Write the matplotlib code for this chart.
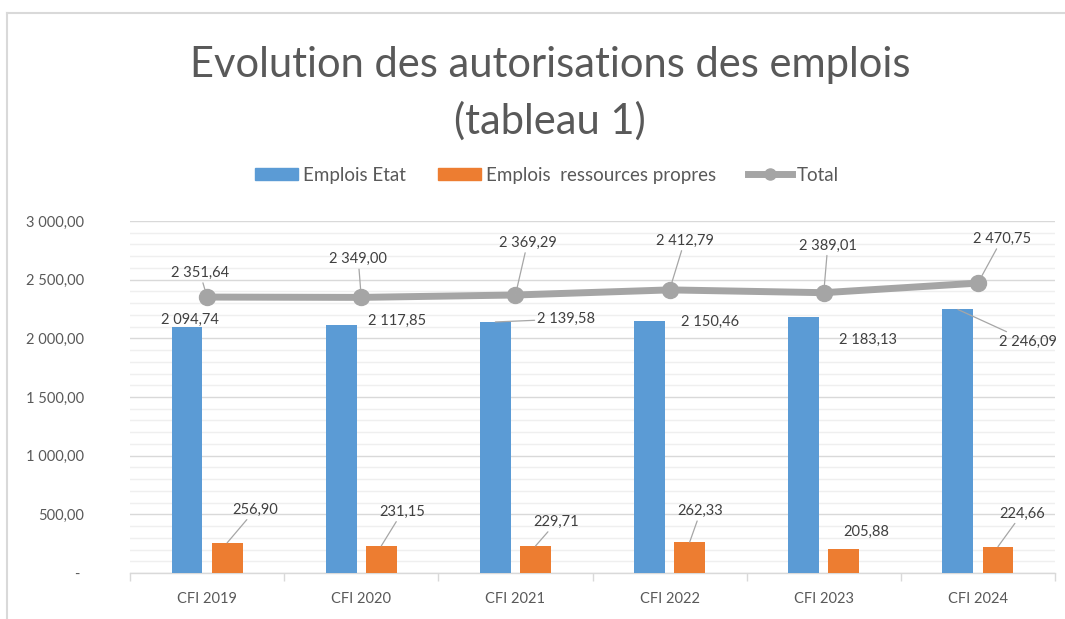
import matplotlib
matplotlib.use("Agg")
import matplotlib.pyplot as plt
from matplotlib.lines import Line2D
from matplotlib.patches import Patch
import numpy as np

categories = ["CFI 2019", "CFI 2020", "CFI 2021", "CFI 2022", "CFI 2023", "CFI 2024"]
emplois_etat = [2094.74, 2117.85, 2139.58, 2150.46, 2183.13, 2246.09]
emplois_rp = [256.90, 231.15, 229.71, 262.33, 205.88, 224.66]
total = [2351.64, 2349.00, 2369.29, 2412.79, 2389.01, 2470.75]
yticks = [0, 500, 1000, 1500, 2000, 2500, 3000]

# label offsets in pixels (dx, dy) and whether a leader line is drawn
off_total = [(-7, 24), (-3, 38), (12, 52), (15, 49), (4, 47), (24, 44)]
lead_total = [True, True, True, True, True, True]
off_etat = [(3, 7), (56, 4), (71, 3), (61, -1), (64, -23), (70, -32)]
lead_etat = [False, False, True, False, False, True]
off_rp = [(28, 33), (21, 34), (21, 24), (11, 31), (22, 17), (24, 33)]
lead_rp = [True, True, True, True, False, True]

BLUE = "#5b9bd5"
ORANGE = "#ed7d31"
GRAY = "#a5a5a5"
TXT = "#404040"
AX = "#595959"

plt.rcParams['font.family'] = ['Lato', 'DejaVu Sans']

def fmt(v):
    s = f"{v:,.2f}"
    return s.replace(",", " ").replace(".", ",")

fig = plt.figure(figsize=(10.65, 6.19), dpi=100)
ax = fig.add_axes([130/1065, 1-573/619, 925/1065, (573-221)/619])

x = np.arange(len(categories))
w = 0.2
d = 0.13
ax.bar(x - d, emplois_etat, w, color=BLUE, zorder=3)
ax.bar(x + d, emplois_rp, w, color=ORANGE, zorder=3)
ax.plot(x, total, color=GRAY, lw=5, marker='o', ms=11.5, zorder=4)

ax.set_xlim(-0.5, len(categories) - 0.5)
ax.set_ylim(0, 3000)
ax.set_yticks(yticks)
ax.set_yticks(np.arange(0, 3001, 100), minor=True)
ax.set_yticklabels(["- " if v == 0 else fmt(v) for v in yticks],
                   color=AX, fontsize=10.5)
ax.tick_params(axis='y', which='both', length=0, pad=33)
ax.grid(axis='y', which='major', color='#d9d9d9', lw=1, zorder=0)
ax.grid(axis='y', which='minor', color='#efefef', lw=1, zorder=0)

ax.set_xticks(x)
ax.set_xticklabels(categories, color=AX, fontsize=10.5)
ax.set_xticks(np.arange(-0.5, len(categories) + 0.5, 1), minor=True)
ax.tick_params(axis='x', which='major', length=0, pad=14)
ax.tick_params(axis='x', which='minor', length=6, color='#d9d9d9', width=1)
for s in ['top', 'right', 'left']:
    ax.spines[s].set_visible(False)
ax.spines['bottom'].set_color('#d9d9d9')
ax.spines['bottom'].set_linewidth(1)

px = 72 / 100.0

def label(xv, yv, text, off, lead):
    kw = dict(xy=(xv, yv), xytext=(off[0]*px, off[1]*px), textcoords='offset points',
              ha='center', va='center', fontsize=10.5, color=TXT, zorder=6)
    if lead:
        kw['arrowprops'] = dict(arrowstyle='-', color='#a6a6a6', lw=0.9,
                                shrinkA=0, shrinkB=0)
    ax.annotate(text, **kw)

for i in range(len(categories)):
    label(x[i], total[i], fmt(total[i]), off_total[i], lead_total[i])
    label(x[i] - d, emplois_etat[i], fmt(emplois_etat[i]), off_etat[i], lead_etat[i])
    label(x[i] + d, emplois_rp[i], fmt(emplois_rp[i]), off_rp[i], lead_rp[i])

fig.text(550/1065, 1-77/619, "Evolution des autorisations des emplois", ha='center', va='baseline',
         fontsize=30, color=AX)
fig.text(550/1065, 1-134/619, "(tableau 1)", ha='center', va='baseline',
         fontsize=30, color=AX)

handles = [Patch(color=BLUE), Patch(color=ORANGE),
           Line2D([], [], color=GRAY, lw=5, marker='o', ms=8)]
fig.legend(handles, ["Emplois Etat", "Emplois  ressources propres", "Total"],
           loc='center', bbox_to_anchor=(547/1065, 1-175/619), ncol=3, frameon=False,
           fontsize=13.5, labelcolor=AX, handlelength=2.3, handleheight=0.6,
           handletextpad=0.27, columnspacing=1.7)

fig.add_artist(Line2D([7/1065, 7/1065], [0, 1-13/619], color='#d9d9d9', lw=1.5,
                      transform=fig.transFigure))
fig.add_artist(Line2D([7/1065, 1], [1-13/619, 1-13/619], color='#d9d9d9', lw=1.5,
                      transform=fig.transFigure))

fig.savefig("out.png", dpi=100)
